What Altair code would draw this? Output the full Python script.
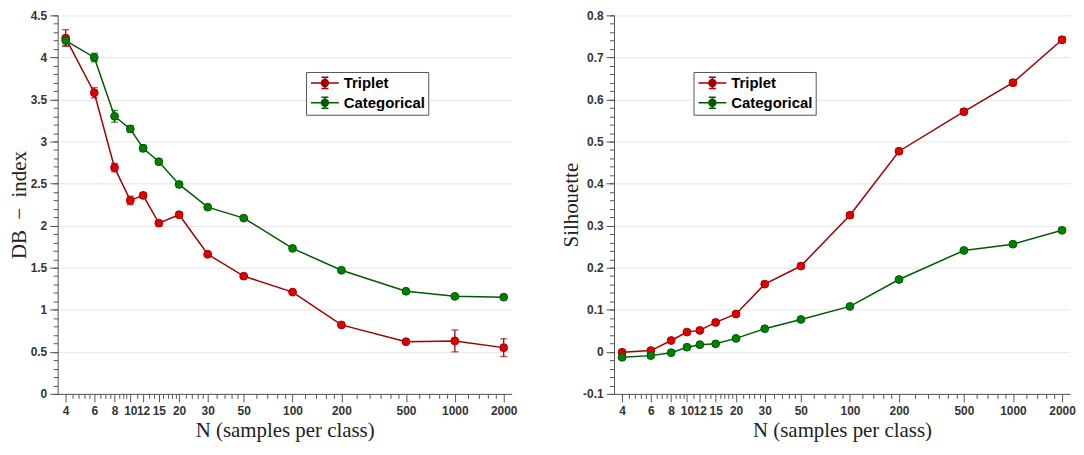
import altair as alt
import pandas as pd

# ---------------- data ----------------
N = [4, 6, 8, 10, 12, 15, 20, 30, 50, 100, 200, 500, 1000, 2000]
methods = ["Triplet", "Categorical"]

db_triplet = [4.23, 3.58, 2.69, 2.30, 2.36, 2.03, 2.13, 1.66, 1.40, 1.21, 0.82, 0.62, 0.63, 0.55]
db_triplet_err = [0.10, 0.06, 0.05, 0.05, 0.03, 0.03, 0.03, 0.02, 0.02, 0.02, 0.02, 0.02, 0.13, 0.105]
db_categorical = [4.20, 4.00, 3.30, 3.15, 2.92, 2.76, 2.49, 2.22, 2.09, 1.73, 1.47, 1.22, 1.16, 1.15]
db_categorical_err = [0.06, 0.05, 0.07, 0.04, 0.04, 0.03, 0.03, 0.02, 0.02, 0.02, 0.02, 0.02, 0.02, 0.02]

sil_triplet = [-0.001, 0.003, 0.027, 0.047, 0.051, 0.070, 0.090, 0.161, 0.204, 0.325, 0.477, 0.571, 0.640, 0.742]
sil_triplet_err = [0.004, 0.004, 0.004, 0.005, 0.005, 0.005, 0.005, 0.006, 0.006, 0.006, 0.006, 0.007, 0.007, 0.007]
sil_categorical = [-0.013, -0.009, -0.002, 0.011, 0.017, 0.019, 0.032, 0.055, 0.077, 0.108, 0.172, 0.241, 0.256, 0.289]
sil_categorical_err = [0.004, 0.004, 0.004, 0.004, 0.004, 0.004, 0.004, 0.004, 0.004, 0.004, 0.005, 0.005, 0.005, 0.005]

# ---------------- axis ticks ----------------
x_major = [4, 6, 8, 10, 12, 15, 20, 30, 50, 100, 200, 500, 1000, 2000]
x_minor = [4.4, 4.8, 5.2, 5.6, 6.5, 7, 7.5, 8.5, 9, 9.5, 11, 13, 14, 16, 17, 18, 19,
           22, 24, 26, 28, 34, 38, 42, 46, 60, 70, 80, 90, 120, 140, 160, 180,
           250, 300, 350, 400, 450, 600, 700, 800, 900, 1200, 1400, 1600, 1800]
x_domain = [3.57, 2240]

db_major = [0, 0.5, 1, 1.5, 2, 2.5, 3, 3.5, 4, 4.5]
db_minor = [round(i * 0.1, 2) for i in range(46)]
sil_major = [-0.1, 0, 0.1, 0.2, 0.3, 0.4, 0.5, 0.6, 0.7, 0.8]
sil_minor = [round(-0.1 + i * 0.02, 3) for i in range(46)]

# ---------------- styles ----------------
line_colors = ["#a00000", "#005a00"]
fill_colors = ["#e00000", "#008000"]
AX = "#555555"
LEGEND_PATH = ("M-2,0H2M0,-0.8V0.8M-0.5,-0.8H0.5M-0.5,0.8H0.5"
               "M-0.5,0A0.5,0.5,0,1,0,0.5,0A0.5,0.5,0,1,0,-0.5,0Z")
H = 381


def make_df(a, a_err, b, b_err):
    rows = []
    for m, vals, errs in ((methods[0], a, a_err), (methods[1], b, b_err)):
        for n, v, e in zip(N, vals, errs):
            rows.append({"N": n, "value": v, "lo": v - e, "hi": v + e, "method": m})
    return pd.DataFrame(rows)


def make_legend(lx, ly):
    return alt.Legend(
        title=None, orient="none", legendX=lx, legendY=ly,
        symbolType=LEGEND_PATH, symbolSize=196, symbolStrokeWidth=1.5,
        symbolOffset=8, labelOffset=11, rowPadding=2, padding=3,
        labelFont="Liberation Sans", labelFontSize=15, labelFontWeight="bold",
        labelColor="#000000", strokeColor="#555555", fillColor="#ffffff",
        cornerRadius=0,
    )


def panel(df, ytitle, ydom, ymaj, ymin, width, lx, ly):
    xs = alt.Scale(type="log", domain=x_domain, nice=False)
    ys = alt.Scale(domain=ydom, nice=False, zero=False)
    legend = make_legend(lx, ly)
    stroke = alt.Stroke("method:N", scale=alt.Scale(domain=methods, range=line_colors), legend=legend)
    fill = alt.Fill("method:N", scale=alt.Scale(domain=methods, range=fill_colors), legend=legend)

    xax = alt.Axis(orient="bottom", values=x_major, labelExpr="format(datum.value, 'd')",
                   labelOverlap=False, labelFlush=False, tickSize=8, labelPadding=4,
                   grid=False, title="N (samples per class)", titlePadding=3)
    yax = alt.Axis(orient="left", values=ymaj,
                   labelExpr="replace(format(datum.value, '~g'), '\u2212', '-')",
                   grid=True, gridColor="#e6e6e6", tickSize=8, labelPadding=3,
                   title=ytitle, titlePadding=1)

    base = alt.Chart(df)
    minor = base.mark_point(opacity=0).encode(
        x=alt.X("N:Q", scale=xs, axis=alt.Axis(orient="bottom", values=x_minor, labels=False,
                                               domain=False, grid=False, tickSize=4.5, title=None)),
        y=alt.Y("value:Q", scale=ys, axis=alt.Axis(orient="left", values=ymin, labels=False,
                                                   domain=False, grid=False, tickSize=4.5, title=None)),
    )
    line = base.mark_line(strokeWidth=1.5).encode(
        x=alt.X("N:Q", scale=xs, axis=xax),
        y=alt.Y("value:Q", scale=ys, axis=yax),
        stroke=stroke,
    )
    err = base.mark_errorbar(ticks={"size": 7}, thickness=1.3).encode(
        x=alt.X("N:Q", scale=xs, axis=xax),
        y=alt.Y("lo:Q", scale=ys, axis=yax),
        y2="hi:Q",
        color=alt.Color("method:N", scale=alt.Scale(domain=methods, range=line_colors), legend=None),
    )
    pts = base.mark_circle(size=62, opacity=1, strokeWidth=1).encode(
        x=alt.X("N:Q", scale=xs, axis=xax),
        y=alt.Y("value:Q", scale=ys, axis=yax),
        fill=fill,
        stroke=stroke,
    )
    main = alt.layer(line, err, pts)
    return alt.layer(minor, main).resolve_axis(x="independent", y="independent").properties(
        width=width, height=H)


left = panel(make_df(db_triplet, db_triplet_err, db_categorical, db_categorical_err),
             "DB\u2002\u2212\u2002index", [0, 4.5], db_major, db_minor, 457, 250, 57)
right = panel(make_df(sil_triplet, sil_triplet_err, sil_categorical, sil_categorical_err),
              "Silhouette", [-0.1, 0.8], sil_major, sil_minor, 459, 80, 57)

chart = alt.hconcat(left, right, spacing=43).resolve_scale(
    color="independent", fill="independent", stroke="independent"
).resolve_legend(fill="independent", stroke="independent").properties(padding=0).configure_view(
    strokeWidth=0
).configure_axis(
    labelFont="Liberation Sans", labelFontSize=12, labelFontWeight="bold", labelColor="#333333",
    titleFont="Liberation Serif", titleFontSize=21, titleFontWeight="normal", titleColor="#222222",
    domainColor=AX, tickColor=AX, domainWidth=1, tickWidth=1,
)

chart.save("out.html", embed_options={"renderer": "svg", "actions": False})
